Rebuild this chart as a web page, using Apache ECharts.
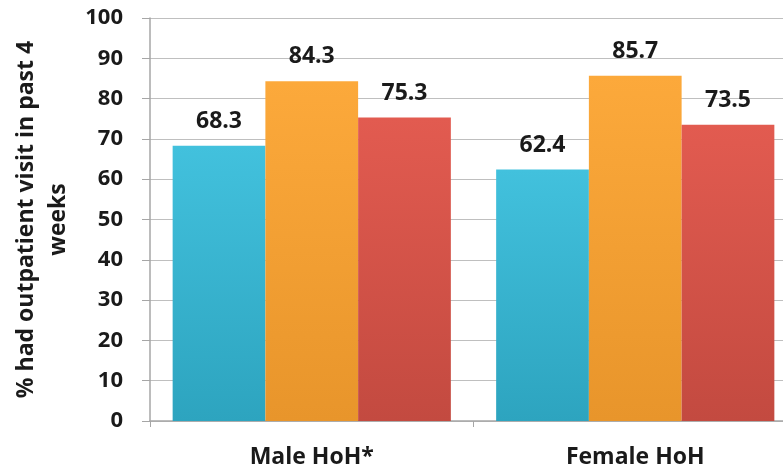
<!DOCTYPE html>
<html>
<head>
<meta charset="utf-8">
<script src="https://cdn.jsdelivr.net/npm/echarts@6/dist/echarts.min.js"></script>
<style>html,body{margin:0;padding:0;background:#fff}#c{width:783px;height:472px}</style>
</head>
<body>
<div id="c"></div>
<script>
var categories = ['Male HoH*', 'Female HoH'];
var seriesA = [68.3, 62.4];
var seriesB = [84.3, 85.7];
var seriesC = [75.3, 73.5];
var yTicks = [0, 10, 20, 30, 40, 50, 60, 70, 80, 90, 100];
var yName = '% had outpatient visit in past 4\nweeks';

function grad(top, bottom) {
  return new echarts.graphic.LinearGradient(0, 0, 0, 1, [
    { offset: 0, color: top }, { offset: 1, color: bottom }
  ]);
}
var FONT = 'Open Sans';
var chart = echarts.init(document.getElementById('c'), null, { renderer: 'canvas' });
function mk(data, top, bottom) {
  return {
    type: 'bar', data: data, barGap: '0%', barCategoryGap: '14%',
    itemStyle: { color: grad(top, bottom) },
    label: { show: true, position: 'top', distance: 13, color: '#1a1a1a',
      fontFamily: FONT, fontWeight: 'bold', fontSize: 23, formatter: function (p) { return p.value.toFixed(1); } }
  };
}
chart.setOption({
  animation: false,
  grid: { left: 150, top: 18, width: 647, height: 403, outerBoundsMode: 'none', containLabel: false },
  xAxis: {
    type: 'category', data: categories,
    axisLine: { lineStyle: { color: '#a6a6a6', width: 1.5 } },
    axisTick: { show: true, length: 6, lineStyle: { color: '#a6a6a6' } },
    axisLabel: { color: '#1a1a1a', fontFamily: FONT, fontWeight: 'bold', fontSize: 23, margin: 25 }
  },
  yAxis: {
    type: 'value', min: yTicks[0], max: yTicks[yTicks.length - 1], interval: 10,
    name: yName, nameLocation: 'middle', nameRotate: 90, nameGap: 76,
    nameTextStyle: { color: '#1a1a1a', fontFamily: FONT, fontWeight: 'bold', fontSize: 23, lineHeight: 32, align: 'center' },
    axisLine: { show: true, lineStyle: { color: '#a6a6a6', width: 1.5 } },
    axisTick: { show: true, length: 8, lineStyle: { color: '#a6a6a6' } },
    splitLine: { lineStyle: { color: '#bfbfbf', width: 1.2 } },
    axisLabel: { color: '#1a1a1a', fontFamily: FONT, fontWeight: 'bold', fontSize: 22, margin: 27 }
  },
  series: [
    mk(seriesA, '#42c1dd', '#2da4bf'),
    mk(seriesB, '#fca93b', '#e8952b'),
    mk(seriesC, '#e25b50', '#c34a40')
  ]
});
</script>
</body>
</html>
